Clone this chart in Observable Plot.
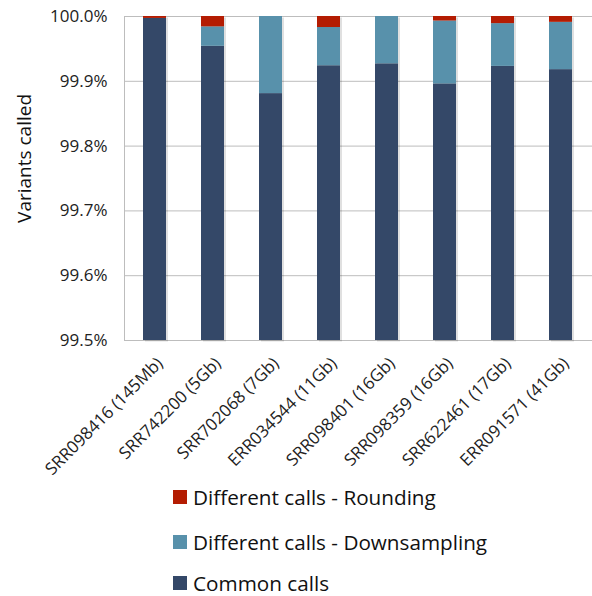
<!DOCTYPE html>
<html>
<head>
<meta charset="utf-8">
<script src="https://cdn.jsdelivr.net/npm/d3@7"></script>
<script src="https://cdn.jsdelivr.net/npm/@observablehq/plot@0.6"></script>
<style>
  body { margin: 0; background: #fff; font-family: "Open Sans", sans-serif; }
  #chart { width: 592px; height: 465px; }
  .legend { position: relative; width: 592px; height: 131px; }
  .item { position: absolute; left: 173px; display: flex; align-items: center; font-size: 20.7px; line-height: 24px; height: 24px; color: #111; }
  .sw { width: 14px; height: 14px; margin-right: 6px; }
</style>
</head>
<body>
<div id="chart"></div>
<div class="legend" id="legend"></div>
<script>
const samples = ["SRR098416 (145Mb)", "SRR742200 (5Gb)", "SRR702068 (7Gb)", "ERR034544 (11Gb)", "SRR098401 (16Gb)", "SRR098359 (16Gb)", "SRR622461 (17Gb)", "ERR091571 (41Gb)"];
const common = [99.997, 99.954, 99.881, 99.924, 99.927, 99.896, 99.923, 99.918];
const downsampling = [0.000, 0.030, 0.119, 0.059, 0.073, 0.097, 0.066, 0.073];
const rounding = [0.003, 0.016, 0.000, 0.017, 0.000, 0.007, 0.011, 0.009];
const seriesNames = ["Common calls", "Different calls - Downsampling", "Different calls - Rounding"];
const colors = ["#344868", "#5891ab", "#b41c02"];
const yTicks = [99.5, 99.6, 99.7, 99.8, 99.9, 100.0];
const base = 99.5;

const rows = [];
samples.forEach((s, i) => {
  const c = common[i], d = downsampling[i], r = rounding[i];
  rows.push({sample: s, series: seriesNames[0], y1: base, y2: c});
  rows.push({sample: s, series: seriesNames[1], y1: c, y2: c + d});
  rows.push({sample: s, series: seriesNames[2], y1: c + d, y2: Math.min(100, c + d + r)});
});
const totals = samples.map((s, i) => ({sample: s, y1: base, y2: Math.min(100, common[i] + downsampling[i] + rounding[i])}));

const chart = Plot.plot({
  width: 592,
  height: 465,
  marginTop: 16,
  marginBottom: 125,
  marginLeft: 124,
  marginRight: 0,
  style: {fontFamily: "Open Sans, sans-serif", fontSize: "17px", color: "#222", overflow: "visible"},
  x: {domain: samples, paddingInner: 0.6, paddingOuter: 0.3, label: null},
  y: {domain: [99.5, 100], label: null},
  color: {domain: seriesNames, range: colors},
  marks: [
    Plot.ruleY(yTicks, {stroke: "#bdbdbd", strokeWidth: 1}),
    Plot.frame({anchor: "left", stroke: "#bdbdbd"}),
    Plot.rectY(totals, {x: "sample", y1: "y1", y2: "y2", fill: "#000", fillOpacity: 0.12, dx: 2, dy: 1.5}),
    Plot.rectY(rows, {x: "sample", y1: "y1", y2: "y2", fill: "series"}),
    Plot.axisY({ticks: yTicks, tickFormat: d => d.toFixed(1) + "%", tickSize: 0, tickPadding: 17, fontSize: 17, label: null, fill: "#222"}),
    Plot.axisX({tickSize: 0, tickRotate: -45, tickPadding: 20, dx: 5, fontSize: 17, label: null, fill: "#222"}),
    Plot.text(["Variants called"], {y: () => 99.781, frameAnchor: "left", dx: -100, rotate: -90, textAnchor: "middle", fontSize: 19, fill: "#111", text: d => d})
  ]
});
document.getElementById("chart").appendChild(chart);

const leg = document.getElementById("legend");
const order = [2, 1, 0];
const tops = [20, 65, 106];
order.forEach((k, j) => {
  const it = document.createElement("div");
  it.className = "item";
  it.style.top = tops[j] + "px";
  it.innerHTML = `<span class="sw" style="background:${colors[k]}"></span><span>${seriesNames[k]}</span>`;
  leg.appendChild(it);
});
</script>
</body>
</html>
